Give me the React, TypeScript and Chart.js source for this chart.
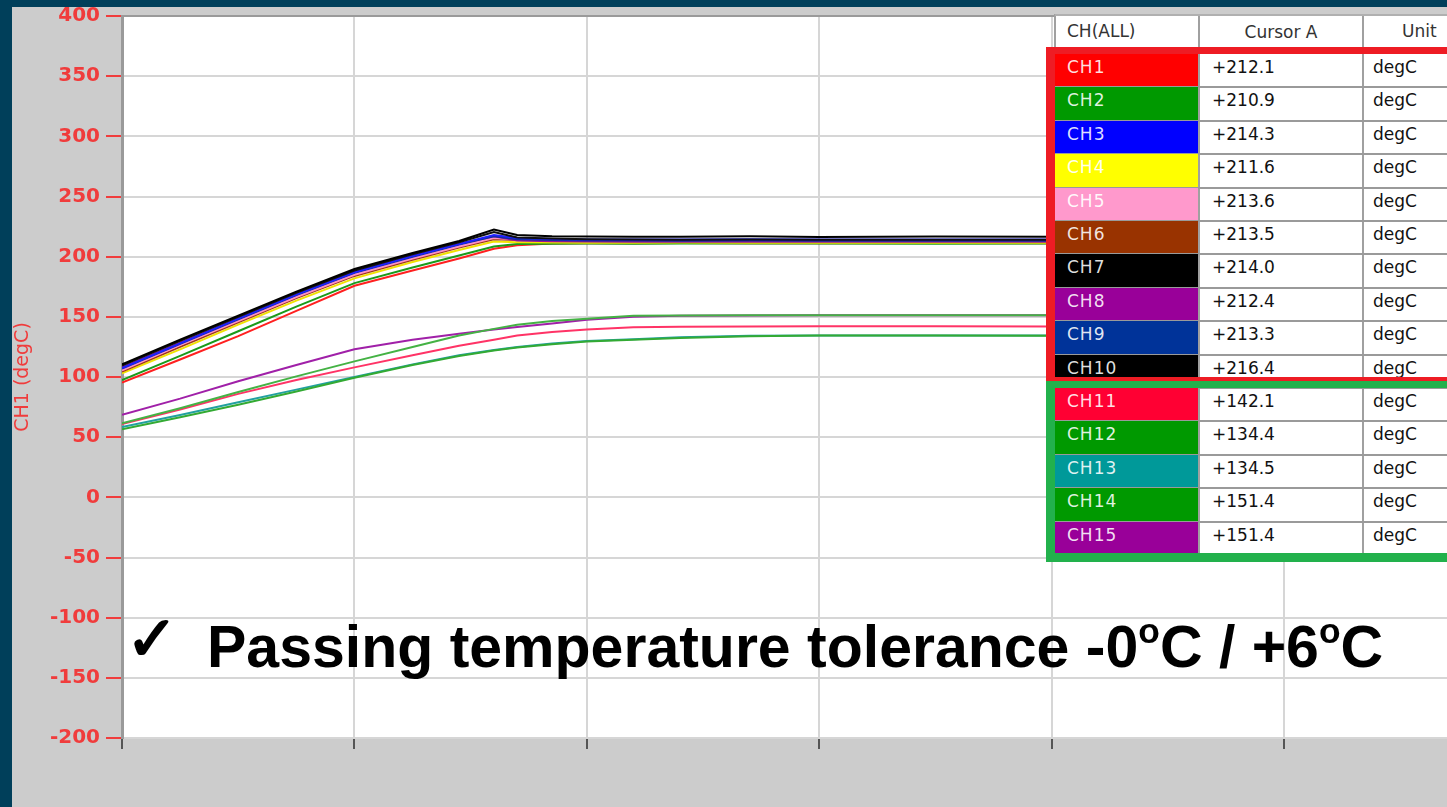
import React, { useEffect, useRef } from 'react';
import { Chart, registerables } from 'chart.js';
Chart.register(...registerables);

// ---- data ----
const xs = [0, 0.25, 0.5, 0.75, 1.0, 1.25, 1.45, 1.6, 1.7, 1.85, 2.0, 2.2, 2.4, 2.7, 3.0, 3.5, 4.0, 4.6, 5.2, 5.7];

const ch1 = [95.3, 114.5, 134, 155, 175.8, 188.5, 198.5, 206.5, 209.5, 211, 211.2, 211.1, 211.3, 211.2, 211.1, 211.3, 211.2, 211.1, 211.2, 211.2];
const ch2 = [97.5, 117.5, 138, 158.5, 178, 191, 201, 208.5, 210.5, 210.8, 210.9, 210.8, 210.9, 211, 210.9, 210.8, 210.9, 211, 210.9, 210.9];
const ch3 = [107.5, 128, 148.5, 168.5, 187, 200.5, 210.5, 218, 215.5, 214.6, 214.3, 214.3, 214.2, 214.4, 214.3, 214.3, 214.2, 214.3, 214.3, 214.3];
const ch4 = [103, 123, 143.5, 163.5, 182, 195.5, 205.5, 212.5, 212, 211.8, 211.6, 211.6, 211.7, 211.6, 211.6, 211.5, 211.6, 211.6, 211.6, 211.6];
const ch5 = [105.5, 126.5, 146.5, 166.5, 185, 198.5, 208.5, 215.5, 214.2, 213.8, 213.6, 213.6, 213.7, 213.6, 213.6, 213.5, 213.6, 213.6, 213.6, 213.6];
const ch6 = [104.5, 125, 145.5, 165.5, 184, 197.5, 207.5, 214.5, 213.8, 213.6, 213.5, 213.5, 213.4, 213.5, 213.5, 213.6, 213.5, 213.5, 213.5, 213.5];
const ch7 = [109.5, 130, 150, 170, 188.5, 202, 212, 220.5, 216, 215, 214.5, 214.3, 214, 214.2, 214, 214.1, 214, 214.2, 214, 214];
const ch8 = [108, 128.5, 148.5, 168.5, 187, 200.5, 210.5, 217, 213.5, 212.8, 212.5, 212.4, 212.4, 212.5, 212.4, 212.4, 212.3, 212.4, 212.4, 212.4];
const ch9 = [107, 127.5, 148, 168, 186.5, 200, 210, 217, 214.5, 213.8, 213.5, 213.4, 213.3, 213.4, 213.3, 213.3, 213.2, 213.3, 213.3, 213.3];
const ch10 = [110.6, 131, 151, 171, 189.7, 203, 213, 222.5, 218, 217, 216.8, 216.6, 216.5, 216.9, 216.4, 216.8, 216.5, 216.6, 216.4, 216.4];
const ch11 = [61, 73, 86, 97.5, 108, 118, 126, 131, 134.5, 137.3, 139.5, 141.3, 141.8, 142, 142.1, 142.1, 142, 142.1, 142.1, 142.1];
const ch12 = [56.5, 66.5, 77, 88, 99.3, 110, 117.5, 122, 124.5, 127.3, 129.5, 131, 132.5, 133.8, 134.4, 134.4, 134.3, 134.4, 134.4, 134.4];
const ch13 = [58.5, 68.5, 79, 89.5, 100, 110.5, 118, 122.5, 125, 127.8, 130, 131.3, 133, 134.2, 134.5, 134.5, 134.4, 134.5, 134.5, 134.5];
const ch14 = [61.5, 74, 87.5, 100.5, 113, 125, 134.5, 140, 143.5, 146.5, 148.5, 150.8, 151.2, 151.4, 151.4, 151.4, 151.3, 151.4, 151.4, 151.4];
const ch15 = [68.7, 82, 96.5, 110, 123, 131, 136, 139.5, 141.5, 144.5, 147.5, 150, 151, 151.2, 151.4, 151.4, 151.3, 151.4, 151.4, 151.4];

const series = [ch1, ch2, ch3, ch4, ch5, ch6, ch7, ch8, ch9, ch10, ch11, ch12, ch13, ch14, ch15];
const channelNames = ['CH1', 'CH2', 'CH3', 'CH4', 'CH5', 'CH6', 'CH7', 'CH8', 'CH9', 'CH10', 'CH11', 'CH12', 'CH13', 'CH14', 'CH15'];
const cursorA = ['+212.1', '+210.9', '+214.3', '+211.6', '+213.6', '+213.5', '+214.0', '+212.4', '+213.3', '+216.4', '+142.1', '+134.4', '+134.5', '+151.4', '+151.4'];
const unitLabel = 'degC';
const yMin = -200;
const yMax = 400;
const yStep = 50;
const xMax = 5.7;

// ---- styles ----
const channelColors = ['#FF0000', '#009900', '#0000FF', '#FFFF00', '#FF99CC', '#993300', '#000000', '#990099', '#003399', '#000000', '#FF0033', '#009900', '#009999', '#009900', '#990099'];
const lineColors = ['#FF2020', '#1A9A1A', '#2020FF', '#F2E200', '#FF8FC8', '#A03A10', '#101010', '#9A109A', '#10309A', '#000000', '#FF3366', '#33AA33', '#22A0A0', '#44B244', '#A020A8'];
const drawOrder = [9, 8, 2, 7, 5, 6, 1, 4, 3, 0, 12, 13, 14, 10, 11];
const RED = '#F03C3C';

const ROW_TOP = 54;
const ROW_H = 33.4;
const C1 = 1055, C2 = 1199, C3 = 1363, CR = 1470;

export default function App() {
  const ref = useRef<HTMLCanvasElement | null>(null);

  useEffect(() => {
    if (!ref.current) return;
    const plotBg = {
      id: 'plotBg',
      beforeDraw(chart: any) {
        const { ctx, chartArea } = chart;
        ctx.save();
        ctx.fillStyle = '#FFFFFF';
        ctx.fillRect(chartArea.left, chartArea.top, chartArea.right - chartArea.left, chartArea.bottom - chartArea.top);
        ctx.restore();
      },
      afterDraw(chart: any) {
        const { ctx, chartArea } = chart;
        ctx.save();
        ctx.strokeStyle = '#9A9A9A';
        ctx.lineWidth = 2;
        ctx.beginPath();
        ctx.moveTo(chartArea.left, chartArea.top);
        ctx.lineTo(chartArea.right, chartArea.top);
        ctx.stroke();
        ctx.restore();
      },
    };
    const chart = new Chart(ref.current, {
      type: 'line',
      data: {
        datasets: series.map((ys, i) => ({
          label: channelNames[i],
          data: xs.map((x, j) => ({ x, y: ys[j] })),
          borderColor: lineColors[i],
          backgroundColor: lineColors[i],
          borderWidth: 2,
          pointRadius: 0,
          tension: 0,
          order: drawOrder[i],
        })),
      },
      options: {
        animation: false,
        responsive: false,
        devicePixelRatio: 1,
        layout: { padding: { top: 9, bottom: 0, left: 0, right: 0 } },
        plugins: { legend: { display: false }, tooltip: { enabled: false } },
        scales: {
          x: {
            type: 'linear',
            min: 0,
            max: xMax,
            ticks: { display: false, stepSize: 1 },
            grid: { color: '#D6D6D6', lineWidth: 2, tickColor: '#555555', tickLength: 11, drawTicks: true },
            border: { display: false },
            afterBuildTicks: (s: any) => { s.ticks = s.ticks.filter((t: any) => Number.isInteger(t.value)); },
            afterFit: (s: any) => { s.height = 69; s.paddingLeft = 0; s.paddingRight = 0; },
          },
          y: {
            min: yMin,
            max: yMax,
            ticks: {
              stepSize: yStep,
              color: RED,
              padding: 6,
              font: { family: '"DejaVu Sans", sans-serif', size: 20, weight: 'bold' },
            },
            grid: { color: '#D6D6D6', lineWidth: 2, tickColor: RED, tickLength: 16 },
            border: { display: true, color: '#9A9A9A', width: 3 },
            title: {
              display: true,
              text: 'CH1 (degC)',
              color: RED,
              padding: 0,
              font: { family: '"DejaVu Sans", sans-serif', size: 19, weight: 'normal' },
            },
            afterFit: (s: any) => { s.width = 110; s.paddingTop = 0; s.paddingBottom = 0; },
          },
        },
      },
      plugins: [plotBg],
    } as any);
    return () => chart.destroy();
  }, []);

  const tableFont = '"DejaVu Sans", Verdana, sans-serif';
  const cellText = (top: number, left: number, text: string, color: string, extra: any = {}) => (
    <div style={{ position: 'absolute', top, left, height: 24, lineHeight: '24px', fontFamily: tableFont, fontSize: 17, color, whiteSpace: 'nowrap', ...extra }}>{text}</div>
  );

  return (
    <div style={{ position: 'fixed', left: 0, top: 0, width: 1447, height: 807, background: '#003F5A', overflow: 'hidden' }}>
      <div style={{ position: 'absolute', left: 12, top: 7, width: 1435, height: 800, background: '#CCCCCC' }}>
        <canvas ref={ref} width={1435} height={800} style={{ display: 'block', width: 1435, height: 800 }} />
      </div>

      {/* cursor table */}
      <div style={{ position: 'absolute', left: C1, top: 15, width: CR - C1, height: 553 - 15, background: '#FFFFFF' }} />
      <div style={{ position: 'absolute', left: C1 - 1, top: 14, width: 2, height: 34, background: '#A0A0A0' }} />
      <div style={{ position: 'absolute', left: C2 - 1, top: 14, width: 2, height: 540, background: '#A0A0A0' }} />
      <div style={{ position: 'absolute', left: C3 - 1, top: 14, width: 2, height: 540, background: '#A0A0A0' }} />
      <div style={{ position: 'absolute', left: C1, top: 14, width: CR - C1, height: 2, background: '#B0B0B0' }} />
      {cellText(19, C1 + 12, 'CH(ALL)', '#333333')}
      {cellText(20, C2, 'Cursor A', '#333333', { width: C3 - C2, textAlign: 'center' })}
      {cellText(19, 1402, 'Unit', '#333333')}

      {channelNames.map((name, i) => {
        const top = ROW_TOP + i * ROW_H;
        const light = name === 'CH4' || name === 'CH5';
        return (
          <React.Fragment key={name}>
            <div style={{ position: 'absolute', left: C1, top, width: C2 - C1 - 1, height: ROW_H, background: channelColors[i] }} />
            <div style={{ position: 'absolute', left: C1, top: top + ROW_H - 1, width: CR - C1, height: 2, background: '#9A9A9A' }} />
            {cellText(top + 1, C1 + 12, name, light ? 'rgba(255,255,255,0.95)' : 'rgba(255,255,255,0.88)', { letterSpacing: 1 })}
            {cellText(top + 1, C2 + 13, cursorA[i], '#111111')}
            {cellText(top + 1, C3 + 10, unitLabel, '#111111')}
          </React.Fragment>
        );
      })}

      {/* highlight boxes */}
      <div style={{ position: 'absolute', left: 1046, top: 47, width: 430, height: 381 - 47, boxSizing: 'border-box', borderStyle: 'solid', borderColor: '#EE1C24', borderWidth: '7px 7px 4px 9px' }} />
      <div style={{ position: 'absolute', left: 1046, top: 381, width: 430, height: 562 - 381, boxSizing: 'border-box', borderStyle: 'solid', borderColor: '#22B14C', borderWidth: '7px 7px 9px 9px' }} />

      {/* annotation */}
      <div style={{ position: 'absolute', left: 126, top: 608, fontFamily: '"DejaVu Sans", sans-serif', fontSize: 62, fontWeight: 'bold', lineHeight: 1, color: '#000', WebkitTextStroke: '2px #000' }}>✓</div>
      <div style={{ position: 'absolute', left: 207, top: 618, fontFamily: '"Liberation Sans", Arial, sans-serif', fontWeight: 'bold', fontSize: 59, lineHeight: 1, color: '#000', whiteSpace: 'nowrap' }}>
        Passing temperature tolerance -0<sup style={{ fontSize: '60%', verticalAlign: '0.67em', lineHeight: 0 }}>o</sup>C / +6<sup style={{ fontSize: '60%', verticalAlign: '0.67em', lineHeight: 0 }}>o</sup>C
      </div>
    </div>
  );
}
